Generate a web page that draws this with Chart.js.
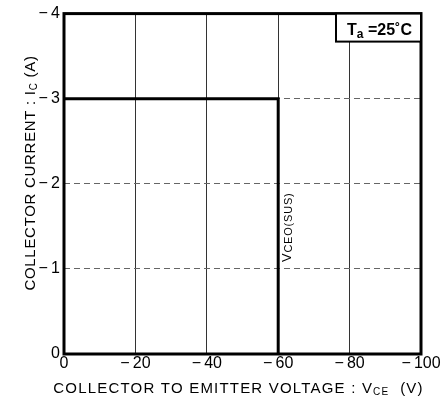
<!DOCTYPE html>
<html>
<head>
<meta charset="utf-8">
<script src="https://cdn.jsdelivr.net/npm/chart.js@4/dist/chart.umd.min.js"></script>
<style>
  html, body { margin: 0; padding: 0; background: #fff; }
  #wrap { width: 445px; height: 401px; }
</style>
</head>
<body>
<div id="wrap"><canvas id="c" width="445" height="401"></canvas></div>
<script>
// Safe operating boundary: collector-emitter voltage (V) vs collector current (A)
const vceValues = [0, -60, -60];
const icValues = [-3, -3, 0];
const xTickValues = [0, -20, -40, -60, -80, -100];
const yTickValues = [0, -1, -2, -3, -4];
const ambientLabel = ['T', 'a', ' =25˚C'];
const sustainLabel = ['V', 'CEO(SUS)'];
const xTitleParts = ['COLLECTOR TO EMITTER VOLTAGE : V', 'CE', '  (V)'];
const yTitleParts = ['COLLECTOR CURRENT : I', 'C', ' (A)'];

const FONT = '"Liberation Sans", Arial, sans-serif';

function fmt(v) {
  return v === 0 ? '0' : '\u2212\u2009' + Math.abs(v);
}

// draw a run of text pieces alternating normal / subscript
function drawParts(ctx, parts, size, subSize, x, y, align, spacing, weight, subDrop) {
  spacing = spacing || 0;
  weight = weight || '';
  subDrop = subDrop === undefined ? 2 : subDrop;
  ctx.letterSpacing = spacing + 'px';
  const widths = parts.map((p, i) => {
    ctx.font = weight + ' ' + (i % 2 === 1 ? subSize : size) + 'px ' + FONT;
    return ctx.measureText(p).width;
  });
  const total = widths.reduce((a, b) => a + b, 0);
  let cx = align === 'center' ? x - total / 2 : x;
  parts.forEach((p, i) => {
    const sub = i % 2 === 1;
    ctx.font = weight + ' ' + (sub ? subSize : size) + 'px ' + FONT;
    ctx.textAlign = 'left';
    ctx.textBaseline = 'alphabetic';
    ctx.fillText(p, cx, y + (sub ? subDrop : 0));
    cx += widths[i];
  });
  ctx.letterSpacing = '0px';
  return total;
}

const decor = {
  id: 'decor',
  afterDraw(chart) {
    const ctx = chart.ctx;
    const a = chart.chartArea;
    const xs = chart.scales.x, ys = chart.scales.y;
    ctx.save();
    ctx.fillStyle = '#000';
    ctx.strokeStyle = '#000';

    // frame
    ctx.lineWidth = 3;
    ctx.strokeRect(a.left, a.top, a.right - a.left, a.bottom - a.top);

    // ambient temperature box
    const bx = 336, by = a.top, bw = a.right - 336, bh = 28;
    ctx.fillStyle = '#fff';
    ctx.fillRect(bx, by, bw, bh);
    ctx.fillStyle = '#000';
    ctx.lineWidth = 2;
    ctx.strokeRect(bx, by, bw, bh);
    drawParts(ctx, ambientLabel, 16, 12, bx + bw / 2 + 1, by + 21, 'center', 0, 'bold', 3);

    // sustaining-voltage label along the vertical boundary
    ctx.save();
    ctx.translate(xs.getPixelForValue(-60) + 13, ys.getPixelForValue(-1.08));
    ctx.rotate(-Math.PI / 2);
    drawParts(ctx, sustainLabel, 13, 11, 0, 0, 'left', 0.8, '', 1);
    ctx.restore();

    // axis titles
    drawParts(ctx, xTitleParts, 15, 10, (50 + 427) / 2, 393, 'center', 1.2);
    ctx.save();
    ctx.translate(35, 173);
    ctx.rotate(-Math.PI / 2);
    drawParts(ctx, yTitleParts, 15, 10, 0, 0, 'center', 0.7);
    ctx.restore();

    ctx.restore();
  }
};

new Chart(document.getElementById('c'), {
  type: 'line',
  data: {
    datasets: [{
      data: vceValues.map((v, i) => ({ x: v, y: icValues[i] })),
      borderColor: '#000',
      borderWidth: 3,
      pointRadius: 0,
      tension: 0,
      fill: false
    }]
  },
  options: {
    responsive: false,
    animation: false,
    layout: { padding: { left: 0, top: 6, right: 24, bottom: 0 } },
    plugins: { legend: { display: false }, tooltip: { enabled: false } },
    scales: {
      x: {
        type: 'linear',
        reverse: true,
        min: -100, max: 0,
        afterBuildTicks: s => { s.ticks = xTickValues.map(v => ({ value: v })); },
        afterFit: s => { s.height = 47; },
        border: { display: false },
        grid: {
          drawTicks: false,
          color: c => (c.tick && (c.tick.value === 0 || c.tick.value === -100)) ? 'rgba(0,0,0,0)' : '#333',
          lineWidth: 1
        },
        ticks: {
          padding: 0,
          color: '#000',
          font: { size: 16, family: FONT },
          callback: v => fmt(v),
          maxRotation: 0
        }
      },
      y: {
        type: 'linear',
        reverse: true,
        min: -4, max: 0,
        afterBuildTicks: s => { s.ticks = yTickValues.map(v => ({ value: v })); },
        afterFit: s => { s.width = 64; },
        border: { display: false, dash: [6, 4] },
        grid: {
          drawTicks: false,
          color: c => (c.tick && (c.tick.value === 0 || c.tick.value === -4)) ? 'rgba(0,0,0,0)' : '#666',
          lineWidth: 1
        },
        ticks: {
          padding: 4,
          color: '#000',
          font: { size: 16, family: FONT },
          callback: v => fmt(v)
        }
      }
    }
  },
  plugins: [decor]
});
</script>
</body>
</html>
